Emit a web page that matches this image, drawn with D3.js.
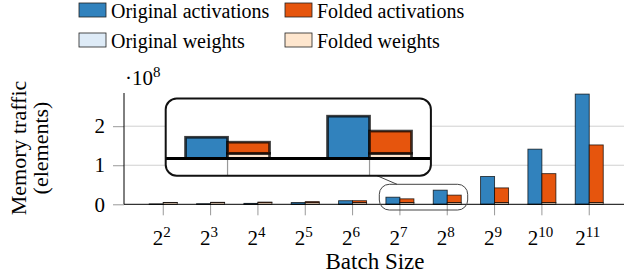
<!DOCTYPE html>
<html>
<head>
<meta charset="utf-8">
<script src="https://cdn.jsdelivr.net/npm/d3@7"></script>
<style>
  body { margin: 0; background: #fff; }
  svg text { font-family: "Liberation Serif", "Times New Roman", serif; }
</style>
</head>
<body>
<svg id="chart"></svg>
<script>
// batch size exponents (2^k)
const exponents = [2, 3, 4, 5, 6, 7, 8, 9, 10, 11];
// memory traffic in elements
const originalActivations = [0.55e6, 1.1e6, 2.2e6, 4.5e6, 9.0e6, 1.8e7, 3.6e7, 7.1e7, 1.41e8, 2.82e8];
const originalWeights     = [0.2e6, 0.2e6, 0.2e6, 0.2e6, 0.2e6, 0.2e6, 0.2e6, 0.2e6, 0.2e6, 0.2e6];
const foldedActivations   = [0.3e6, 0.6e6, 1.2e6, 2.4e6, 4.7e6, 0.95e7, 1.9e7, 3.75e7, 7.4e7, 1.475e8];
const foldedWeights       = [4.5e6, 4.5e6, 4.5e6, 4.5e6, 4.5e6, 4.5e6, 4.5e6, 4.5e6, 4.5e6, 4.5e6];
const yTicks = [0, 1e8, 2e8];
const legendItems = [
  {label: 'Original activations', color: '#3182bd'},
  {label: 'Folded activations', color: '#e6550d'},
  {label: 'Original weights', color: '#deebf7'},
  {label: 'Folded weights', color: '#fee6ce'}
];

const W = 624, H = 277;
const svg = d3.select('#chart').attr('width', W).attr('height', H);

const x = d3.scaleBand().domain(exponents).range([139.6, 612.9]);
const y = d3.scaleLinear().domain([0, 2.85e8]).range([204.3, 93]);
const barW = 14;
const axisLeftX = 124;

// stacked rows: weights at the bottom, activations on top
const rows = exponents.map((e, i) => ({
  e,
  orig: [originalWeights[i], originalActivations[i]],
  fold: [foldedWeights[i], foldedActivations[i]]
}));

function drawPlot(g) {
  // x tick marks
  g.selectAll('.xtick').data(exponents).join('line')
    .attr('class', 'xtick')
    .attr('x1', d => x(d) + x.bandwidth() / 2).attr('x2', d => x(d) + x.bandwidth() / 2)
    .attr('y1', y(0)).attr('y2', y(0) + 11)
    .attr('stroke', '#999').attr('stroke-width', 1);

  const groups = g.selectAll('.grp').data(rows).join('g')
    .attr('class', 'grp')
    .attr('transform', d => `translate(${x(d.e) + x.bandwidth() / 2},0)`);

  const seg = (sel, key, dx, colors) => {
    sel.each(function(d) {
      const vals = d[key];
      let base = 0;
      vals.forEach((v, k) => {
        d3.select(this).append('rect')
          .attr('x', dx).attr('width', barW)
          .attr('y', y(base + v)).attr('height', y(base) - y(base + v))
          .attr('fill', colors[k])
          .attr('stroke', 'rgba(0,0,0,0.75)').attr('stroke-width', 0.9);
        base += v;
      });
    });
  };
  seg(groups, 'orig', -barW, ['#deebf7', '#3182bd']);
  seg(groups, 'fold', 0, ['#fee6ce', '#e6550d']);

  // x axis line
  g.append('line')
    .attr('x1', axisLeftX).attr('x2', W)
    .attr('y1', y(0)).attr('y2', y(0))
    .attr('stroke', '#000').attr('stroke-width', 1);
}

// grid lines
svg.append('g').selectAll('line').data(yTicks.filter(d => d > 0)).join('line')
  .attr('x1', axisLeftX).attr('x2', W)
  .attr('y1', d => y(d)).attr('y2', d => y(d))
  .attr('stroke', '#d0d0d0').attr('stroke-width', 1);

// y axis
const yAxis = d3.axisLeft(y).tickValues(yTicks).tickFormat(d => d / 1e8).tickSize(11).tickPadding(8);
const yAxisG = svg.append('g').attr('transform', `translate(${axisLeftX},0)`).call(yAxis);
yAxisG.attr('font-family', null);
yAxisG.select('.domain').remove();
yAxisG.selectAll('.tick line').attr('stroke', '#999');
yAxisG.selectAll('.tick text').attr('font-size', 21).attr('fill', '#000');
svg.append('line')
  .attr('x1', axisLeftX).attr('x2', axisLeftX)
  .attr('y1', y.range()[1]).attr('y2', y(0))
  .attr('stroke', '#000').attr('stroke-width', 1);

const main = svg.append('g');
drawPlot(main);

// exponent label
const expLabel = svg.append('text').attr('x', 125).attr('y', 85).attr('font-size', 21);
expLabel.append('tspan').text('·10');
expLabel.append('tspan').attr('font-size', 15).attr('dy', -8).text('8');

// x tick labels
const xl = svg.selectAll('.xlab').data(exponents).join('text')
  .attr('class', 'xlab')
  .attr('x', d => x(d) + x.bandwidth() / 2 - 1.5)
  .attr('y', 245)
  .attr('text-anchor', 'middle')
  .attr('font-size', 21);
xl.append('tspan').text('2');
xl.append('tspan').attr('font-size', 15).attr('dy', -8).text(d => d);

// axis titles
svg.append('text').attr('x', 375).attr('y', 269).attr('text-anchor', 'middle')
  .attr('font-size', 23).text('Batch Size');
const yt = svg.append('text').attr('transform', 'translate(0,148) rotate(-90)')
  .attr('text-anchor', 'middle').attr('font-size', 22);
yt.append('tspan').attr('x', 0).attr('y', 26).text('Memory traffic');
yt.append('tspan').attr('x', 0).attr('y', 48).text('(elements)');

// spy: small rect around 2^7..2^8, magnified 3x into big rect
const mag = 3;
const small = {x: 379.3, y: 184.3, w: 88.4, h: 25.7};
const big = {x: 165.7, y: 98.6, w: small.w * mag, h: small.h * mag};

svg.append('line')
  .attr('x1', 377).attr('y1', big.y + big.h)
  .attr('x2', 397).attr('y2', small.y)
  .attr('stroke', '#444').attr('stroke-width', 1);

svg.append('rect')
  .attr('x', small.x).attr('y', small.y).attr('width', small.w).attr('height', small.h)
  .attr('rx', 10).attr('fill', 'none').attr('stroke', '#444').attr('stroke-width', 1);

svg.append('clipPath').attr('id', 'spyClip').append('rect')
  .attr('x', big.x).attr('y', big.y).attr('width', big.w).attr('height', big.h).attr('rx', 11);

const spy = svg.append('g').attr('clip-path', 'url(#spyClip)');
spy.append('rect').attr('x', big.x).attr('y', big.y).attr('width', big.w).attr('height', big.h).attr('fill', '#fff');
const spyInner = spy.append('g')
  .attr('transform', `translate(${big.x - mag * small.x},${big.y - mag * small.y}) scale(${mag})`);
drawPlot(spyInner);
spyInner.selectAll('.xtick').attr('stroke-width', 0.4);

svg.append('rect')
  .attr('x', big.x).attr('y', big.y).attr('width', big.w).attr('height', big.h)
  .attr('rx', 11).attr('fill', 'none').attr('stroke', '#111').attr('stroke-width', 2);

// legend
const leg = svg.append('g');
const li = leg.selectAll('g').data(legendItems).join('g')
  .attr('transform', (d, i) => `translate(${i % 2 === 0 ? 79 : 285},${i < 2 ? 3 : 33})`);
li.append('rect').attr('width', 27).attr('height', 14)
  .attr('fill', d => d.color).attr('stroke', '#222').attr('stroke-width', 0.8);
li.append('text').attr('x', 32).attr('y', 15).attr('font-size', 20).text(d => d.label);
</script>
</body>
</html>
